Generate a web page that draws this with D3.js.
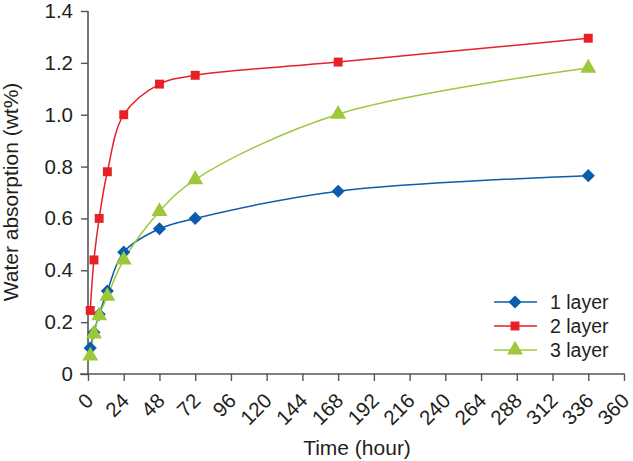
<!DOCTYPE html>
<html><head><meta charset="utf-8">
<script src="https://cdn.jsdelivr.net/npm/d3@7"></script>
<style>body{margin:0;background:#fff}svg{display:block}text{font-family:"Liberation Sans",Arial,sans-serif;fill:#231f20}</style>
</head><body><svg id="c" width="633" height="461"></svg>
<script>
const times = [1.5, 4, 7.5, 13, 24, 48, 72, 168, 336];
const layer1 = [0.10, 0.16, 0.23, 0.32, 0.47, 0.56, 0.60, 0.705, 0.765];
const layer2 = [0.245, 0.44, 0.60, 0.78, 1.00, 1.118, 1.152, 1.203, 1.295];
const layer3 = [0.07, 0.155, 0.225, 0.30, 0.44, 0.627, 0.75, 1.002, 1.18];
const seriesNames = ["1 layer", "2 layer", "3 layer"];
const xTicks = [0,24,48,72,96,120,144,168,192,216,240,264,288,312,336,360];
const yTicks = [0,0.2,0.4,0.6,0.8,1.0,1.2,1.4];

const colors = ["#0b5cad", "#e82127", "#9cc83a"];
const symbols = [d3.symbolDiamond2, d3.symbolSquare, d3.symbolTriangle];
const symSizes = [110, 80, 110];
const svg = d3.select("#c");
const x = d3.scaleLinear().domain([0,360]).range([88,624]);
const y = d3.scaleLinear().domain([0,1.4]).range([374,11]);
const axisColor = "#555";
const fs = 20.5;

// axes
const gx = svg.append("g").attr("transform","translate(0,374)")
  .call(d3.axisBottom(x).tickValues(xTicks).tickSize(7).tickFormat(d3.format("d")));
gx.select(".domain").attr("stroke",axisColor).attr("stroke-width",1.6).attr("d","M"+(x(0)-8)+",0H"+x(360));
gx.selectAll(".tick line").attr("stroke",axisColor).attr("stroke-width",1.4).attr("y1",-0.5);
gx.selectAll(".tick text").attr("font-size",fs).attr("text-anchor","end").attr("dy",0)
  .attr("transform","translate(6,28) rotate(-45)").attr("y",0).attr("x",0).style("fill","#231f20");
const gy = svg.append("g").attr("transform","translate(88,0)")
  .call(d3.axisLeft(y).tickValues(yTicks).tickSize(7).tickFormat(d=> d===0?"0":d3.format(".1f")(d)));
gy.select(".domain").attr("stroke",axisColor).attr("stroke-width",1.6).attr("d","M0,"+y(1.4)+"V374");
gy.selectAll(".tick line").attr("stroke",axisColor).attr("stroke-width",1.4);
gy.selectAll(".tick text").attr("font-size",fs).attr("x",-15).style("fill","#231f20");
svg.selectAll(".domain").attr("fill","none");

svg.append("text").attr("x",357).attr("y",455).attr("text-anchor","middle").attr("font-size",21).text("Time (hour)");
svg.append("text").attr("transform","translate(18,192) rotate(-90)").attr("text-anchor","middle").attr("font-size",21).text("Water absorption (wt%)");

const data = [layer1, layer2, layer3];
const line = d3.line().x((d,i)=>x(times[i])).y(d=>y(d)).curve(d3.curveCatmullRom.alpha(0.5));
data.forEach((vals,k)=>{
  svg.append("path").attr("d",line(vals)).attr("fill","none").attr("stroke",colors[k]).attr("stroke-width",1.5);
});
data.forEach((vals,k)=>{
  svg.append("g").selectAll("path").data(vals).join("path")
    .attr("transform",(d,i)=>`translate(${x(times[i])},${y(d)})`)
    .attr("d",d3.symbol(symbols[k],symSizes[k])).attr("fill",colors[k]);
});

// legend
const lg = svg.append("g");
seriesNames.forEach((n,k)=>{
  const yy = 302 + k*24;
  lg.append("line").attr("x1",494).attr("x2",537).attr("y1",yy).attr("y2",yy).attr("stroke",colors[k]).attr("stroke-width",1.5);
  lg.append("path").attr("transform",`translate(515,${yy})`).attr("d",d3.symbol(symbols[k],symSizes[k])).attr("fill",colors[k]);
  lg.append("text").attr("x",550).attr("y",yy+7).attr("font-size",19.5).text(n);
});
</script></body></html>
